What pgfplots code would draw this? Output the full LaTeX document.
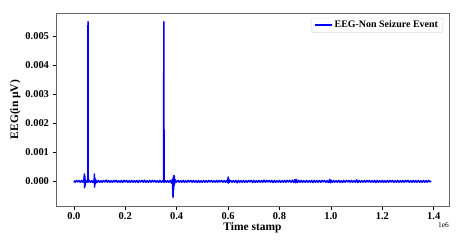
\documentclass[border=0pt]{standalone}
\usepackage{pgfplots}
\pgfplotsset{compat=1.18}
\usepackage{fontspec}
\setmainfont{Liberation Serif}
\begin{document}
\begin{tikzpicture}[x=1bp,y=1bp]
\useasboundingbox (0,0) rectangle (462,243);
\begin{axis}[
  at={(56bp,37bp)}, anchor=south west,
  scale only axis, width=393bp, height=193bp,
  xmin=-0.0695, xmax=1.4595, ymin=-0.00085, ymax=0.0058,
  axis line style={gray!80!black, line width=0.8pt},
  tick style={black, line width=0.6pt},
  tick align=outside, major tick length=3.5bp,
  xtick={0,0.2,0.4,0.6,0.8,1.0,1.2,1.4},
  ytick={0,0.001,0.002,0.003,0.004,0.005},
  xtick pos=bottom, ytick pos=left,
  scaled y ticks=false, scaled x ticks=false,
  x tick label style={/pgf/number format/.cd, fixed, fixed zerofill, precision=1, assume math mode=true},
  y tick label style={/pgf/number format/.cd, fixed, fixed zerofill, precision=3, assume math mode=true},
  tick label style={font=\fontsize{10.5}{12}\selectfont\bfseries},
  xlabel={Time stamp}, ylabel={EEG(in µV)},
  label style={font=\fontsize{11.5}{13}\selectfont\bfseries},
  xlabel style={yshift=4bp},
  ylabel style={yshift=-2bp},
  legend style={at={(0.985,0.975)}, anchor=north east, draw=gray!30, rounded corners=2pt,
    font=\fontsize{10}{12}\selectfont\bfseries, inner xsep=3pt, inner ysep=1pt},
  legend cell align=left,
  legend image post style={line width=1.5pt},
  clip=false,
]
\addplot[blue, line width=1.5pt, line join=round] coordinates {
(0.000,0.00002) (0.005,-0.00003) (0.010,0.00003) (0.015,-0.00002) (0.020,0.00002)
(0.025,-0.00003) (0.030,0.00003) (0.035,-0.00003) (0.039,0.00004) (0.041,0.00025)
(0.042,-0.00022) (0.043,0.00018) (0.044,-0.00015) (0.046,0.00004) (0.050,-0.00003)
(0.054,0.00002) (0.055,0.0055) (0.056,-0.00003) (0.060,0.00003) (0.065,-0.00003)
(0.070,0.00002) (0.075,-0.00004) (0.079,0.00004) (0.080,0.00025) (0.081,-0.0002)
(0.082,0.00012) (0.083,-0.0001) (0.085,0.00005) (0.090,-0.00004) (0.095,0.00003)
(0.100,-0.00003) (0.105,0.00002) (0.110,-0.00003) (0.115,0.00003) (0.120,-0.00002)
(0.125,0.00004) (0.130,-0.00003) (0.135,0.00003) (0.140,-0.00003) (0.145,0.00002)
(0.150,-0.00003) (0.155,0.00003) (0.160,-0.00002) (0.165,0.00003) (0.170,-0.00003)
(0.175,0.00002) (0.180,-0.00003) (0.185,0.00003) (0.190,-0.00004) (0.195,0.00003)
(0.200,-0.00002) (0.205,0.00003) (0.210,-0.00003) (0.215,0.00002) (0.220,-0.00003)
(0.225,0.00003) (0.230,-0.00003) (0.235,0.00002) (0.240,-0.00003) (0.245,0.00003)
(0.250,-0.00004) (0.255,0.00003) (0.260,-0.00002) (0.265,0.00003) (0.270,-0.00003)
(0.275,0.00004) (0.280,-0.00003) (0.285,0.00002) (0.290,-0.00003) (0.295,0.00003)
(0.300,-0.00003) (0.305,0.00003) (0.310,-0.00002) (0.315,0.00003) (0.320,-0.00003)
(0.325,0.00002) (0.330,-0.00003) (0.335,0.00003) (0.340,-0.00003) (0.345,0.00002)
(0.349,-0.00003) (0.350,0.0055) (0.351,-0.00003) (0.355,0.00003) (0.360,-0.00003)
(0.365,0.00002) (0.370,-0.00003) (0.375,0.00003) (0.380,-0.00006) (0.384,0.00008)
(0.385,-0.00045) (0.386,-0.00055) (0.387,0.00015) (0.388,-0.0003) (0.389,0.0002)
(0.390,-0.00015) (0.391,0.00018) (0.392,-0.00008) (0.394,0.00006) (0.398,-0.00003)
(0.405,0.00003) (0.410,-0.00003) (0.415,0.00002) (0.420,-0.00003) (0.425,0.00003)
(0.430,-0.00003) (0.435,0.00002) (0.440,-0.00003) (0.445,0.00003) (0.450,-0.00002)
(0.455,0.00003) (0.460,-0.00003) (0.465,0.00003) (0.470,-0.00003) (0.475,0.00002)
(0.480,-0.00004) (0.485,0.00003) (0.490,-0.00003) (0.495,0.00002) (0.500,-0.00003)
(0.505,0.00003) (0.510,-0.00003) (0.515,0.00002) (0.520,-0.00003) (0.525,0.00003)
(0.530,-0.00002) (0.535,0.00003) (0.540,-0.00003) (0.545,0.00002) (0.550,-0.00003)
(0.555,0.00003) (0.560,-0.00003) (0.565,0.00003) (0.570,-0.00002) (0.575,0.00003)
(0.580,-0.00003) (0.585,0.00002) (0.590,-0.00003) (0.595,0.00003) (0.599,-0.00004)
(0.600,0.00015) (0.601,-0.00006) (0.603,0.00008) (0.605,-0.00003) (0.610,0.00003)
(0.615,-0.00003) (0.620,0.00002) (0.625,-0.00003) (0.630,0.00003) (0.635,-0.00005)
(0.640,0.00003) (0.645,-0.00003) (0.650,0.00002) (0.655,-0.00003) (0.660,0.00003)
(0.665,-0.00003) (0.670,0.00002) (0.675,-0.00003) (0.680,0.00003) (0.685,-0.00002)
(0.690,0.00003) (0.695,-0.00004) (0.700,0.00003) (0.705,-0.00003) (0.710,0.00002)
(0.715,-0.00003) (0.720,0.00003) (0.725,-0.00003) (0.730,0.00002) (0.735,-0.00003)
(0.740,0.00004) (0.745,-0.00003) (0.750,0.00003) (0.755,-0.00002) (0.760,0.00003)
(0.765,-0.00003) (0.770,0.00003) (0.775,-0.00004) (0.780,0.00003) (0.785,-0.00003)
(0.790,0.00002) (0.795,-0.00003) (0.800,0.00003) (0.805,-0.00003) (0.810,0.00002)
(0.815,-0.00003) (0.820,0.00003) (0.825,-0.00003) (0.830,0.00003) (0.835,-0.00002)
(0.840,0.00003) (0.845,-0.00003) (0.850,0.00004) (0.855,-0.00004) (0.860,0.00006)
(0.863,-0.00005) (0.866,0.00006) (0.870,-0.00004) (0.875,0.00003) (0.880,-0.00003)
(0.885,0.00003) (0.890,-0.00003) (0.895,0.00002) (0.900,-0.00003) (0.905,0.00003)
(0.910,-0.00003) (0.915,0.00002) (0.920,-0.00003) (0.925,0.00003) (0.930,-0.00004)
(0.935,0.00003) (0.940,-0.00003) (0.945,0.00002) (0.950,-0.00003) (0.955,0.00003)
(0.960,-0.00003) (0.965,0.00003) (0.970,-0.00002) (0.975,0.00003) (0.980,-0.00003)
(0.985,0.00002) (0.990,-0.00004) (0.995,0.00006) (0.998,-0.00005) (1.000,0.00004)
(1.005,-0.00003) (1.010,0.00003) (1.015,-0.00003) (1.020,0.00002) (1.025,-0.00003)
(1.030,0.00003) (1.035,-0.00003) (1.040,0.00002) (1.045,-0.00004) (1.050,0.00003)
(1.055,-0.00003) (1.060,0.00003) (1.065,-0.00002) (1.070,0.00003) (1.075,-0.00003)
(1.080,0.00003) (1.085,-0.00003) (1.090,0.00002) (1.095,-0.00003) (1.100,0.00005)
(1.105,-0.00004) (1.110,0.00003) (1.115,-0.00003) (1.120,0.00002) (1.125,-0.00003)
(1.130,0.00003) (1.135,-0.00003) (1.140,0.00003) (1.145,-0.00002) (1.150,0.00003)
(1.155,-0.00003) (1.160,0.00002) (1.165,-0.00003) (1.170,0.00003) (1.175,-0.00004)
(1.180,0.00003) (1.185,-0.00003) (1.190,0.00002) (1.195,-0.00003) (1.200,0.00003)
(1.205,-0.00003) (1.210,0.00002) (1.215,-0.00003) (1.220,0.00003) (1.225,-0.00003)
(1.230,0.00003) (1.235,-0.00002) (1.240,0.00003) (1.245,-0.00003) (1.250,0.00002)
(1.255,-0.00003) (1.260,0.00003) (1.265,-0.00003) (1.270,0.00002) (1.275,-0.00003)
(1.280,0.00003) (1.285,-0.00003) (1.290,0.00003) (1.295,-0.00002) (1.300,0.00003)
(1.305,-0.00003) (1.310,0.00002) (1.315,-0.00003) (1.320,0.00003) (1.325,-0.00003)
(1.330,0.00002) (1.335,-0.00003) (1.340,0.00003) (1.345,-0.00003) (1.350,0.00002)
(1.355,-0.00003) (1.360,0.00003) (1.365,-0.00003) (1.370,0.00002) (1.375,-0.00003)
(1.380,0.00003) (1.385,-0.00002) (1.390,0.00001)
};
\addlegendentry{EEG-Non Seizure Event}
\node[anchor=north east, font=\fontsize{7.5}{9}\selectfont, inner sep=0pt] at (rel axis cs:1,0) [yshift=-16bp] {1e6};
\end{axis}
\end{tikzpicture}
\end{document}
